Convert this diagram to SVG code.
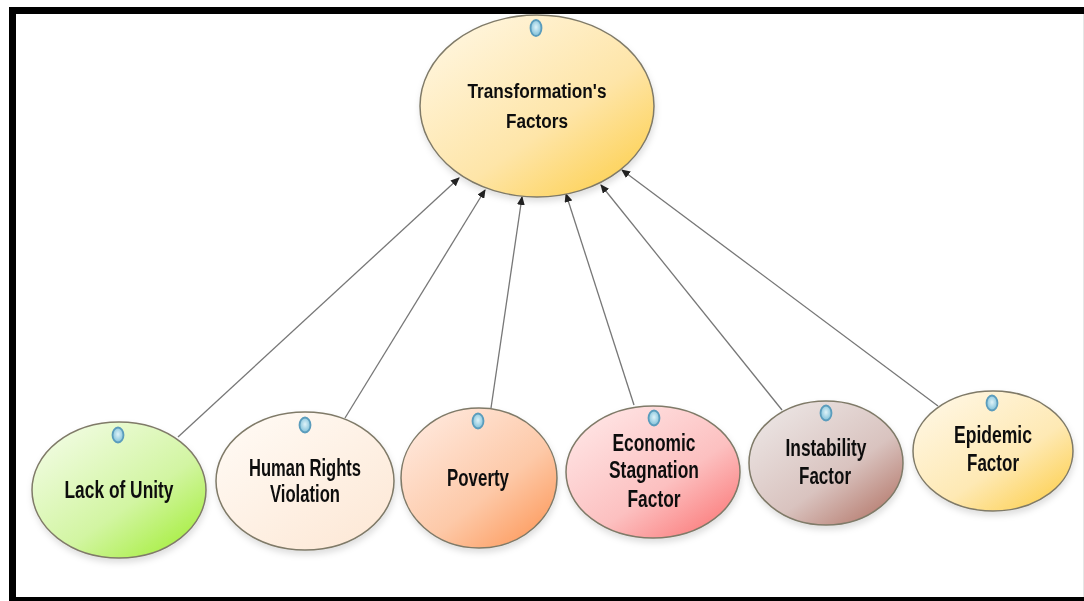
<svg xmlns="http://www.w3.org/2000/svg" width="1084" height="601" viewBox="0 0 1084 601">
<style>
.n{stroke:#7f7a68;stroke-width:1.5;filter:url(#sh)}
.c{fill:none;stroke:#777;stroke-width:1.3;marker-end:url(#a)}
.p{fill:url(#pin);stroke:#5a9cbc;stroke-width:1.8}
text{font-family:"Liberation Sans Narrow","Liberation Sans",Arial,sans-serif;font-weight:700;fill:#111;text-anchor:middle;filter:url(#b)}
</style>
<defs>
<filter id="b" x="-5%" y="-20%" width="110%" height="140%"><feGaussianBlur stdDeviation="0.4"/></filter>
<filter id="sh" x="-10%" y="-10%" width="120%" height="125%"><feDropShadow dx="1" dy="4" stdDeviation="3" flood-color="#000" flood-opacity="0.13"/></filter>
<marker id="a" markerWidth="9" markerHeight="8" refX="8" refY="4" orient="auto" markerUnits="userSpaceOnUse"><path d="M0 0L9 4L0 8Z" fill="#222"/></marker>
<radialGradient id="pin" cx="50%" cy="45%" r="55%"><stop offset="0" stop-color="#dff3f9"/><stop offset="1" stop-color="#7dbfd8"/></radialGradient>
<linearGradient id="g0" x1="0.1" y1="0.05" x2="0.9" y2="0.95"><stop offset="0" stop-color="#fff6e0"/><stop offset="0.6" stop-color="#fee5a8"/><stop offset="1" stop-color="#fdd050"/></linearGradient>
<linearGradient id="g1" x1="0.1" y1="0.05" x2="0.9" y2="0.95"><stop offset="0" stop-color="#f2fce4"/><stop offset="0.6" stop-color="#d2f5a2"/><stop offset="1" stop-color="#a5ee3c"/></linearGradient>
<linearGradient id="g2" x1="0.1" y1="0.05" x2="0.9" y2="0.95"><stop offset="0" stop-color="#fffaf4"/><stop offset="1" stop-color="#fde8d6"/></linearGradient>
<linearGradient id="g3" x1="0.1" y1="0.05" x2="0.9" y2="0.95"><stop offset="0" stop-color="#ffe9de"/><stop offset="0.6" stop-color="#fdc9a8"/><stop offset="1" stop-color="#fd9a5c"/></linearGradient>
<linearGradient id="g4" x1="0.1" y1="0.05" x2="0.9" y2="0.95"><stop offset="0" stop-color="#ffe6e6"/><stop offset="0.6" stop-color="#fcc0c0"/><stop offset="1" stop-color="#fb7a7a"/></linearGradient>
<linearGradient id="g5" x1="0.1" y1="0.05" x2="0.9" y2="0.95"><stop offset="0" stop-color="#ece6e5"/><stop offset="0.6" stop-color="#d9c3bf"/><stop offset="1" stop-color="#b5796c"/></linearGradient>
<linearGradient id="g6" x1="0.1" y1="0.05" x2="0.9" y2="0.95"><stop offset="0" stop-color="#fff7e4"/><stop offset="0.6" stop-color="#fee9b4"/><stop offset="1" stop-color="#fdd050"/></linearGradient>
</defs>
<rect width="1084" height="601" fill="#fff"/>
<path d="M1083.5 10V601" stroke="#e6e6e6" stroke-width="1"/>
<path d="M12.5 601V10.5H1084M9 600.5H1084" fill="none" stroke="#000" stroke-width="7"/>
<g id="connectors">
<path class="c" d="M178 437L459 178"/>
<path class="c" d="M345 418L485 190"/>
<path class="c" d="M491 408L522 197"/>
<path class="c" d="M634 405L566 194"/>
<path class="c" d="M782 410L601 185"/>
<path class="c" d="M938 406L622 170"/>
</g>
<g id="n-transformation"><ellipse class="n" cx="537" cy="106" rx="117" ry="91" fill="url(#g0)"/><ellipse class="p" cx="536" cy="28" rx="5.5" ry="8"/>
<text font-size="20"><tspan x="537" y="98" textLength="139" lengthAdjust="spacingAndGlyphs">Transformation's</tspan><tspan x="537" y="128" textLength="62" lengthAdjust="spacingAndGlyphs">Factors</tspan></text></g>
<g id="n-unity"><ellipse class="n" cx="119" cy="490" rx="87" ry="68" fill="url(#g1)"/><ellipse class="p" cx="118" cy="435" rx="5.5" ry="7.5"/>
<text font-size="23" x="119" y="498" textLength="109" lengthAdjust="spacingAndGlyphs">Lack of Unity</text></g>
<g id="n-human"><ellipse class="n" cx="305" cy="481" rx="89" ry="69" fill="url(#g2)"/><ellipse class="p" cx="305" cy="425" rx="5.5" ry="7.5"/>
<text font-size="23"><tspan x="305" y="476" textLength="112" lengthAdjust="spacingAndGlyphs">Human Rights</tspan><tspan x="305" y="502" textLength="70" lengthAdjust="spacingAndGlyphs">Violation</tspan></text></g>
<g id="n-poverty"><ellipse class="n" cx="479" cy="478" rx="78" ry="70" fill="url(#g3)"/><ellipse class="p" cx="478" cy="421" rx="5.5" ry="7.5"/>
<text font-size="23" x="478" y="486" textLength="62" lengthAdjust="spacingAndGlyphs">Poverty</text></g>
<g id="n-economic"><ellipse class="n" cx="653" cy="472" rx="87" ry="66" fill="url(#g4)"/><ellipse class="p" cx="654" cy="418" rx="5.5" ry="7.5"/>
<text font-size="23"><tspan x="654" y="451" textLength="83" lengthAdjust="spacingAndGlyphs">Economic</tspan><tspan x="654" y="478" textLength="90" lengthAdjust="spacingAndGlyphs">Stagnation</tspan><tspan x="654" y="507" textLength="53" lengthAdjust="spacingAndGlyphs">Factor</tspan></text></g>
<g id="n-instability"><ellipse class="n" cx="826" cy="463" rx="77" ry="62" fill="url(#g5)"/><ellipse class="p" cx="826" cy="413" rx="5.5" ry="7.5"/>
<text font-size="23"><tspan x="826" y="456" textLength="81" lengthAdjust="spacingAndGlyphs">Instability</tspan><tspan x="825" y="484" textLength="52" lengthAdjust="spacingAndGlyphs">Factor</tspan></text></g>
<g id="n-epidemic"><ellipse class="n" cx="993" cy="451" rx="80" ry="60" fill="url(#g6)"/><ellipse class="p" cx="992" cy="403" rx="5.5" ry="7.5"/>
<text font-size="23"><tspan x="993" y="443" textLength="78" lengthAdjust="spacingAndGlyphs">Epidemic</tspan><tspan x="993" y="471" textLength="52" lengthAdjust="spacingAndGlyphs">Factor</tspan></text></g>
</svg>
